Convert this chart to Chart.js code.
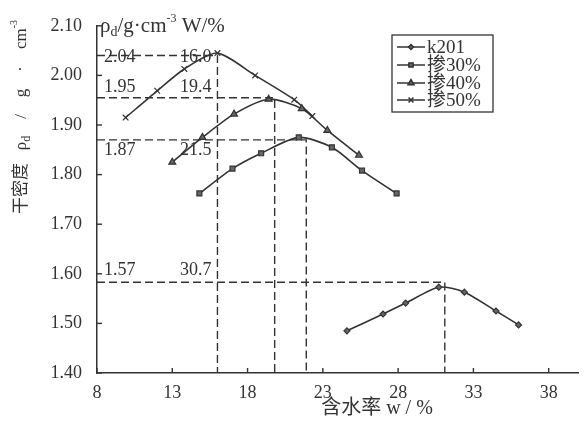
<!DOCTYPE html>
<html>
<head>
<meta charset="utf-8">
<script src="https://cdn.jsdelivr.net/npm/chart.js@4.4.1/dist/chart.umd.min.js"></script>
<style>
  html, body { margin: 0; padding: 0; background: #fff; }
  #wrap { width: 584px; height: 423px; }
</style>
</head>
<body>
<div id="wrap"><canvas id="compactChart" width="584" height="423"></canvas></div>
<script>
// 含水率 (w, %) 与干密度 (g/cm3)
const xTicks = [8, 13, 18, 23, 28, 33, 38];
const yTicks = [1.40, 1.50, 1.60, 1.70, 1.80, 1.90, 2.00, 2.10];

const k201W = [24.6, 27.0, 28.5, 30.7, 32.4, 34.5, 36.0];
const k201D = [1.485, 1.519, 1.541, 1.573, 1.563, 1.525, 1.497];
const mix30W = [14.8, 17.0, 18.9, 21.4, 23.6, 25.6, 27.9];
const mix30D = [1.762, 1.812, 1.843, 1.875, 1.855, 1.808, 1.762];
const mix40W = [13.0, 15.0, 17.1, 19.4, 21.6, 23.3, 25.4];
const mix40D = [1.825, 1.875, 1.922, 1.952, 1.933, 1.889, 1.839];
const mix50W = [9.9, 12.0, 13.8, 16.0, 18.5, 21.1, 22.3];
const mix50D = [1.915, 1.969, 2.013, 2.045, 2.000, 1.951, 1.918];

// 最优含水率 / 最大干密度 (虚线位置与标注)
const optW = [16.0, 19.8, 21.9, 31.1];
const optD = [2.04, 1.955, 1.87, 1.583];
const densLabels = ['2.04', '1.95', '1.87', '1.57'];
const moistLabels = ['16.0', '19.4', '21.5', '30.7'];

const seriesNames = ['k201', '掺30%', '掺40%', '掺50%'];

const INK = '#333';
const SERIF = "'Liberation Serif', 'Noto Sans CJK SC', serif";

function pts(xs, ys) {
    return xs.map((x, i) => ({ x: x, y: ys[i] }));
}

function initializeCharts() {
    const ctx = document.getElementById('compactChart').getContext('2d');

    const dashSets = optW.map((w, i) => ({
        label: 'opt' + i,
        data: [{ x: 8, y: optD[i] }, { x: w, y: optD[i] }, { x: w, y: 1.40 }],
        borderColor: INK,
        borderWidth: 1.4,
        borderDash: [8, 4],
        pointRadius: 0,
        tension: 0
    }));

    const styles = [
        { pointStyle: 'rectRot', pointRadius: 3 },
        { pointStyle: 'rect', pointRadius: 3.5 },
        { pointStyle: 'triangle', pointRadius: 4 },
        { pointStyle: 'crossRot', pointRadius: 4 }
    ];
    const raw = [pts(k201W, k201D), pts(mix30W, mix30D), pts(mix40W, mix40D), pts(mix50W, mix50D)];

    const series = raw.map((d, i) => ({
        label: seriesNames[i],
        data: d,
        borderColor: INK,
        borderWidth: 1.6,
        backgroundColor: '#666',
        pointBorderColor: INK,
        pointBackgroundColor: '#666',
        pointBorderWidth: 1.2,
        pointStyle: styles[i].pointStyle,
        pointRadius: styles[i].pointRadius,
        tension: 0.25
    }));

    const decor = {
        id: 'decor',
        afterDraw(chart) {
            const c = chart.ctx;
            const xs = chart.scales.x, ys = chart.scales.y;
            const area = chart.chartArea;
            c.save();
            c.strokeStyle = INK;
            c.fillStyle = INK;
            c.lineWidth = 1.4;

            // inward ticks
            yTicks.forEach(v => {
                const py = ys.getPixelForValue(v);
                c.beginPath(); c.moveTo(area.left, py); c.lineTo(area.left + 5, py); c.stroke();
            });
            xTicks.forEach(v => {
                const px = xs.getPixelForValue(v);
                c.beginPath(); c.moveTo(px, area.bottom); c.lineTo(px, area.bottom - 5); c.stroke();
            });

            // guide labels
            const dy = [2, -10, 10, -12];
            c.font = '18px ' + SERIF;
            c.textBaseline = 'middle';
            c.textAlign = 'left';
            optD.forEach((d, i) => {
                const py = ys.getPixelForValue(d) + dy[i];
                c.fillText(densLabels[i], area.left + 7, py);
                c.fillText(moistLabels[i], area.left + 83, py);
            });

            // top unit label: ρd/g·cm-3 W/%
            let x = area.left + 3;
            const base = 32;
            function piece(txt, size, off) {
                c.font = size + 'px ' + SERIF;
                c.textBaseline = 'alphabetic';
                c.fillText(txt, x, base + off);
                x += c.measureText(txt).width;
            }
            piece('ρ', 21, 0);
            piece('d', 14, 4);
            piece('/g·cm', 21, 0);
            piece('-3', 12, -10);
            piece(' W/%', 21, 0);

            // y axis title (rotated)
            c.save();
            c.translate(26, 117);
            c.rotate(-Math.PI / 2);
            const parts = [['干密度   ρ', 17, 0], ['d', 12, 4], ['    /    g    ·    cm', 17, 0], ['-3', 10, -9]];
            let total = 0;
            parts.forEach(p => { c.font = p[1] + 'px ' + SERIF; total += c.measureText(p[0]).width; });
            let tx = -total / 2;
            c.textAlign = 'left';
            c.textBaseline = 'alphabetic';
            parts.forEach(p => {
                c.font = p[1] + 'px ' + SERIF;
                c.fillText(p[0], tx, p[2]);
                tx += c.measureText(p[0]).width;
            });
            c.restore();

            // x axis title
            c.font = '20px ' + SERIF;
            c.textAlign = 'center';
            c.textBaseline = 'alphabetic';
            c.fillText('含水率 w / %', 377, 414);

            // legend box
            const lx = 392, ly = 35, lw = 101, lh = 77;
            c.fillStyle = '#fff';
            c.fillRect(lx, ly, lw, lh);
            c.fillStyle = INK;
            c.lineWidth = 1.3;
            c.strokeRect(lx, ly, lw, lh);
            const rowY = [47, 65, 83, 100];
            series.forEach((s, i) => {
                const ry = rowY[i];
                c.lineWidth = 1.5;
                c.beginPath(); c.moveTo(397, ry); c.lineTo(425, ry); c.stroke();
                c.fillStyle = '#666';
                Chart.helpers.drawPoint(c, {
                    pointStyle: s.pointStyle,
                    radius: s.pointRadius - 0.5,
                    rotation: 0,
                    borderWidth: 1.2
                }, 411, ry);
                c.fillStyle = INK;
                c.font = '19px ' + SERIF;
                c.textAlign = 'left';
                c.textBaseline = 'middle';
                c.fillText(s.label, 427, ry + 1);
            });
            c.restore();
        }
    };

    const config = {
        type: 'line',
        data: { datasets: dashSets.concat(series) },
        options: {
            responsive: false,
            animation: false,
            layout: { padding: { left: 0, right: 4, top: 25, bottom: 0 } },
            plugins: {
                legend: { display: false },
                tooltip: { enabled: false },
                title: { display: false }
            },
            scales: {
                x: {
                    type: 'linear',
                    min: 8,
                    max: 40,
                    afterBuildTicks: s => { s.ticks = xTicks.map(v => ({ value: v })); },
                    afterFit: s => { s.height = 50; },
                    grid: { display: false, drawTicks: false },
                    border: { display: true, color: INK, width: 1.5 },
                    ticks: {
                        color: INK,
                        padding: 9,
                        maxRotation: 0,
                        font: { family: SERIF, size: 18 }
                    }
                },
                y: {
                    type: 'linear',
                    min: 1.40,
                    max: 2.10,
                    afterBuildTicks: s => { s.ticks = yTicks.map(v => ({ value: v })); },
                    afterFit: s => { s.width = 97; },
                    grid: { display: false, drawTicks: false },
                    border: { display: true, color: INK, width: 1.5 },
                    ticks: {
                        color: INK,
                        padding: 15,
                        font: { family: SERIF, size: 18 },
                        callback: v => Number(v).toFixed(2)
                    }
                }
            }
        },
        plugins: [decor]
    };
    new Chart(ctx, config);
}

if (document.readyState === 'loading') {
    document.addEventListener('DOMContentLoaded', initializeCharts);
} else {
    initializeCharts();
}
</script>
</body>
</html>
